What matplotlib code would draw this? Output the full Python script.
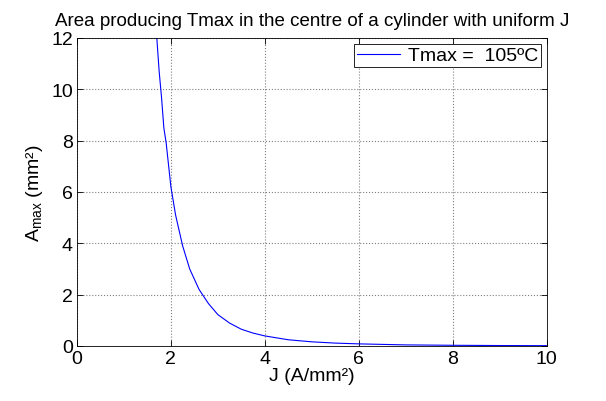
import matplotlib
matplotlib.use("Agg")
import matplotlib.pyplot as plt

# values
J = [1.65, 1.70, 1.75, 1.80, 1.85, 1.90, 2.00, 2.10, 2.25, 2.40, 2.60, 2.80,
     3.00, 3.25, 3.50, 3.75, 4.00, 4.50, 5.00, 5.50, 6.00, 7.00, 8.00, 9.00, 10.00]
A = [13.4, 12.0, 10.7, 9.7, 8.5, 7.9, 6.2, 5.1, 3.9, 3.0, 2.2, 1.65,
     1.22, 0.89, 0.65, 0.50, 0.39, 0.24, 0.16, 0.11, 0.08, 0.04, 0.025, 0.015, 0.01]
xticks = [0, 2, 4, 6, 8, 10]
yticks = [0, 2, 4, 6, 8, 10, 12]

plt.rcParams['font.family'] = ['Liberation Sans', 'DejaVu Sans']
plt.rcParams['mathtext.fontset'] = 'custom'
plt.rcParams['mathtext.rm'] = 'Liberation Sans'

fig = plt.figure(figsize=(6.06, 4.02), dpi=100)
ax = fig.add_axes([0.127, 0.137, 0.775, 0.766])

ax.plot(J, A, color='#0000ff', linewidth=0.8, label='Tmax =  105ºC')
ax.set_xlim(0, 10)
ax.set_ylim(0, 12)
ax.set_xticks(xticks)
ax.set_yticks(yticks)
ax.grid(True, linestyle=':', color='#808080', linewidth=0.8)
ax.tick_params(direction='in', top=True, right=True, length=4, labelsize=14, width=0.6, pad=3)
for s in ax.spines.values():
    s.set_linewidth(0.6)

ax.set_title('Area producing Tmax in the centre of a cylinder with uniform J', fontsize=13.5, pad=9)
ax.set_xlabel('J (A/mm²)', fontsize=14, labelpad=0)
ax.set_ylabel(r'A$_{\mathregular{max}}$ (mm²)', fontsize=14, labelpad=4)

leg = ax.legend(loc='upper right', fontsize=14, fancybox=False, framealpha=1,
                edgecolor='black', handlelength=2.2, handletextpad=0.4,
                borderpad=0.15, borderaxespad=0.3)
leg.get_frame().set_linewidth(0.6)

fig.savefig('out.png', dpi=100)
